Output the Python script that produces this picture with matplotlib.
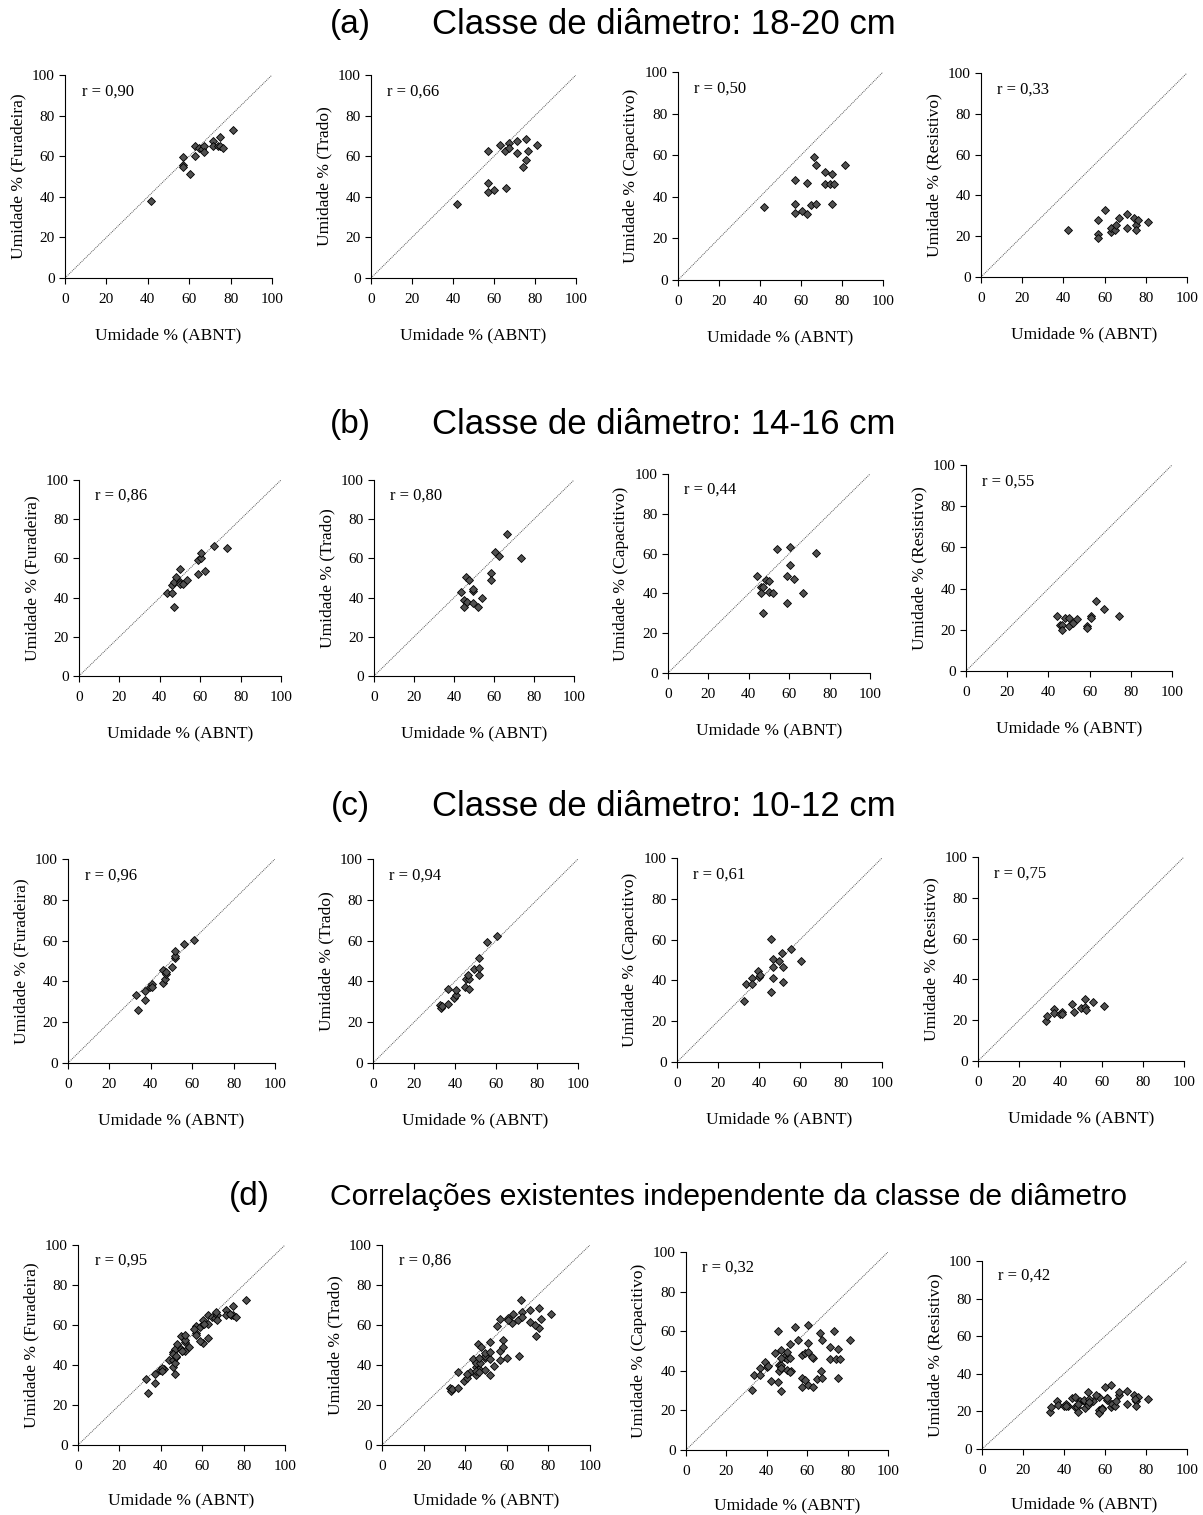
import matplotlib.pyplot as plt

# (a) classe 18-20 cm
a_fur_x = [41.7, 57.1, 57.1, 57.1, 60.2, 62.9, 62.9, 64.7, 66.0, 67.1, 67.3, 71.4, 71.4, 74.1, 75.1, 75.1, 76.2, 81.2]
a_fur_y = [37.8, 59.5, 55.8, 54.8, 51.2, 65.1, 60.3, 64.1, 63.6, 65.2, 62.3, 67.4, 65.1, 65.1, 69.4, 65.1, 64.1, 72.7]
a_tra_x = [42.1, 56.9, 56.9, 56.9, 60.0, 63.1, 65.3, 65.8, 67.1, 67.1, 71.1, 71.1, 74.2, 75.5, 75.5, 76.5, 81.1]
a_tra_y = [36.4, 62.8, 46.8, 42.3, 43.5, 65.4, 62.4, 44.5, 66.6, 63.8, 67.5, 61.6, 54.7, 68.7, 58.3, 62.8, 65.4]
a_cap_x = [42.0, 57.2, 57.2, 57.2, 60.3, 62.9, 63.0, 65.0, 66.1, 67.3, 67.3, 71.5, 71.5, 74.1, 75.2, 75.2, 76.2, 81.4]
a_cap_y = [35.1, 47.9, 36.6, 32.0, 33.0, 46.7, 31.9, 36.1, 59.0, 55.4, 36.6, 52.1, 46.2, 46.2, 51.0, 36.3, 46.2, 55.4]
a_res_x = [42.1, 56.9, 56.9, 56.9, 60.0, 62.9, 63.2, 65.0, 65.6, 66.8, 70.8, 70.8, 74.1, 75.2, 75.2, 76.2, 80.9]
a_res_y = [23.1, 27.8, 21.0, 18.9, 33.0, 22.1, 24.1, 23.1, 25.5, 28.8, 31.1, 24.1, 28.8, 25.5, 22.9, 27.8, 26.8]

# (b) classe 14-16 cm
b_fur_x = [43.8, 45.8, 45.8, 46.8, 46.8, 47.9, 49.9, 49.9, 50.2, 51.7, 53.7, 58.8, 59.0, 60.5, 60.5, 62.6, 66.9, 73.4]
b_fur_y = [42.4, 42.4, 46.4, 35.3, 47.8, 50.3, 54.6, 47.8, 46.9, 46.9, 49.2, 52.2, 59.2, 60.3, 62.7, 53.4, 66.3, 65.3]
b_tra_x = [43.7, 45.2, 45.2, 46.2, 46.6, 47.6, 49.6, 49.7, 49.7, 51.8, 53.8, 58.4, 58.4, 60.6, 62.6, 66.6, 73.6]
b_tra_y = [43.1, 38.8, 35.1, 50.3, 37.8, 49.1, 43.4, 44.3, 37.3, 35.1, 39.7, 52.3, 48.9, 63.4, 61.2, 72.4, 60.1]
b_cap_x = [44.1, 45.9, 45.9, 47.0, 47.2, 48.4, 50.0, 50.2, 52.1, 53.8, 58.7, 58.9, 60.4, 60.6, 62.5, 66.8, 73.3]
b_cap_y = [48.8, 43.1, 40.0, 43.1, 29.9, 46.8, 46.2, 40.6, 40.0, 62.2, 48.8, 35.3, 63.2, 54.2, 47.0, 40.0, 60.2]
b_res_x = [44.1, 45.4, 46.5, 46.7, 48.0, 49.8, 50.1, 51.9, 54.1, 58.7, 58.7, 60.9, 60.9, 63.0, 66.9, 74.4]
b_res_y = [26.9, 22.2, 22.2, 19.9, 25.6, 25.6, 21.9, 23.3, 25.3, 21.7, 21.1, 26.9, 25.9, 34.2, 30.1, 26.7]

# (c) classe 10-12 cm
c_fur_x = [32.9, 34.0, 37.0, 37.2, 39.5, 40.4, 40.7, 45.9, 46.1, 46.7, 47.2, 47.2, 50.1, 51.5, 51.9, 51.7, 56.0, 60.7]
c_fur_y = [33.1, 26.2, 35.4, 31.0, 37.5, 38.5, 37.2, 39.0, 45.4, 41.0, 43.8, 44.6, 46.9, 51.5, 52.3, 54.8, 58.2, 60.3]
c_tra_x = [32.7, 33.3, 33.7, 36.4, 36.4, 39.3, 40.7, 40.7, 45.1, 45.2, 46.7, 46.9, 46.4, 49.4, 51.7, 51.7, 51.7, 55.4, 60.4]
c_tra_y = [28.4, 27.0, 27.9, 28.7, 36.4, 32.1, 33.4, 35.6, 37.2, 41.1, 36.4, 41.1, 43.3, 46.2, 43.1, 46.6, 51.3, 59.3, 62.5]
c_cap_x = [32.7, 33.8, 36.7, 36.7, 39.3, 40.2, 40.7, 45.7, 45.7, 46.8, 46.8, 46.8, 49.8, 51.4, 51.5, 51.5, 55.6, 60.5]
c_cap_y = [30.1, 38.1, 41.2, 38.1, 44.4, 41.7, 42.5, 60.1, 34.3, 50.3, 46.4, 41.2, 49.3, 53.6, 46.4, 39.2, 55.6, 49.3]
c_res_x = [33.0, 33.5, 36.7, 36.9, 39.8, 40.8, 40.8, 45.6, 46.6, 49.8, 51.9, 52.1, 52.3, 55.7, 61.0]
c_res_y = [19.8, 22.1, 25.7, 23.3, 22.9, 24.1, 23.1, 27.8, 24.1, 25.9, 30.4, 26.5, 25.0, 28.9, 27.0]

titles = ["(a)", "(b)", "(c)", "(d)"]
subtitles = ["Classe de diâmetro: 18-20 cm", "Classe de diâmetro: 14-16 cm",
             "Classe de diâmetro: 10-12 cm",
             "Correlações existentes independente da classe de diâmetro"]
methods = ["Furadeira", "Trado", "Capacitivo", "Resistivo"]
r_values = [["0,90", "0,66", "0,50", "0,33"],
            ["0,86", "0,80", "0,44", "0,55"],
            ["0,96", "0,94", "0,61", "0,75"],
            ["0,95", "0,86", "0,32", "0,42"]]

data = [
    [(a_fur_x, a_fur_y), (a_tra_x, a_tra_y), (a_cap_x, a_cap_y), (a_res_x, a_res_y)],
    [(b_fur_x, b_fur_y), (b_tra_x, b_tra_y), (b_cap_x, b_cap_y), (b_res_x, b_res_y)],
    [(c_fur_x, c_fur_y), (c_tra_x, c_tra_y), (c_cap_x, c_cap_y), (c_res_x, c_res_y)],
]
# (d) todas as classes juntas
data.append([(data[0][k][0] + data[1][k][0] + data[2][k][0],
               data[0][k][1] + data[1][k][1] + data[2][k][1]) for k in range(4)])

# posicoes dos eixos em pixels: esquerda, direita, topo, base
W, H = 1203, 1515
boxes = [
    [(65, 272, 75, 278), (371, 576, 75, 278), (678, 883, 72, 280), (981, 1187, 73, 277)],
    [(79, 281, 480, 676), (374, 574, 480, 676), (668, 870, 474, 673), (966, 1172, 465, 671)],
    [(68, 275, 859, 1063), (373, 578, 859, 1063), (677, 882, 858, 1062), (978, 1184, 857, 1061)],
    [(78, 285, 1245, 1445), (382, 590, 1245, 1445), (686, 888, 1252, 1450), (982, 1187, 1261, 1449)],
]
title_y = [24, 425, 807, 1197]
tag_x = [350, 350, 350, 249]
text_x = [432, 432, 432, 330]
title_size = [25, 25, 25, 21.6]

serif = "Liberation Serif"
sans = "Liberation Sans"

fig = plt.figure(figsize=(W / 100, H / 100), dpi=100)

for row in range(4):
    fig.text(tag_x[row] / W, 1 - title_y[row] / H, titles[row], family=sans,
             fontsize=24, ha="center", va="center")
    fig.text(text_x[row] / W, 1 - title_y[row] / H, subtitles[row], family=sans,
             fontsize=title_size[row], ha="left", va="center")
    for col in range(4):
        l, r, t, b = boxes[row][col]
        ax = fig.add_axes([l / W, 1 - b / H, (r - l) / W, (b - t) / H])
        x, y = data[row][col]
        ax.plot([0, 100], [0, 100], color="#555555", lw=0.7, ls=(0, (1, 1)))
        ax.plot(x, y, "D", ms=4.3, mfc="#505050", mec="black", mew=0.6, ls="none")
        ax.set_xlim(0, 100)
        ax.set_ylim(0, 100)
        ax.set_xticks(range(0, 101, 20))
        ax.set_yticks(range(0, 101, 20))
        ax.spines["top"].set_visible(False)
        ax.spines["right"].set_visible(False)
        ax.tick_params(direction="out", length=4, width=0.8, labelsize=11)
        ax.tick_params(axis="x", pad=7)
        for lab in ax.get_xticklabels() + ax.get_yticklabels():
            lab.set_family(serif)
        ax.set_xlabel("Umidade % (ABNT)", family=serif, fontsize=12.5,
                      labelpad=14 if row == 3 else 15)
        ax.set_ylabel("Umidade % (" + methods[col] + ")", family=serif, fontsize=12.5, labelpad=4)
        ax.text(8, 90, "r = " + r_values[row][col], family=serif, fontsize=12)

fig.savefig("out.png", dpi=100)
